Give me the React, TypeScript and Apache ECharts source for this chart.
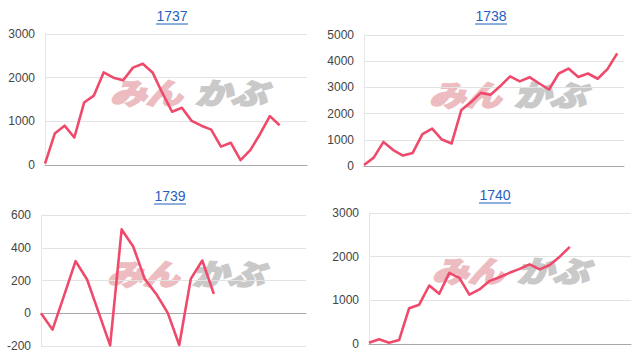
import React, { useEffect, useRef } from "react";
import * as echarts from "echarts";

const titles = ["1737", "1738", "1739", "1740"];

const values1737 = [30, 720, 900, 630, 1430, 1590, 2120, 2000, 1940, 2230, 2320, 2120, 1650, 1220, 1310, 1010, 900, 810, 420, 510, 110, 340, 710, 1120, 910];
const values1738 = [40, 320, 920, 610, 400, 500, 1220, 1430, 1010, 860, 2140, 2440, 2790, 2720, 3050, 3420, 3230, 3390, 3150, 2920, 3530, 3720, 3400, 3530, 3330, 3700, 4300];
const values1739 = [0, -100, 108, 318, 206, 5, -196, 512, 408, 210, 118, 2, -194, 210, 322, 118];
const values1740 = [30, 110, 30, 90, 820, 900, 1340, 1150, 1630, 1515, 1130, 1250, 1440, 1530, 1630, 1720, 1825, 1710, 1810, 2000, 2225];

const yMins = [0, 0, -200, 0];
const yMaxs = [3000, 5000, 600, 3000];
const yIntervals = [1000, 1000, 200, 1000];
const xMaxs = [26.8, 26.7, 23, 26.1];

const allValues = [values1737, values1738, values1739, values1740];

const grids = [
  { left: 45, top: 34, width: 262, height: 131 },
  { left: 364, top: 35, width: 260, height: 131 },
  { left: 41, top: 215, width: 265, height: 131 },
  { left: 369, top: 213, width: 262, height: 131 },
];

const titlePos = [
  [172, 16],
  [491, 16],
  [170, 196],
  [495, 195],
];

const markPos = [
  [110, 91],
  [429, 93],
  [107, 272],
  [432, 269],
];

const LINE = "#ef4a6b";
const FONT = '"Liberation Sans", Arial, sans-serif';

export default function App() {
  const ref = useRef<HTMLDivElement>(null);
  useEffect(() => {
    if (!ref.current) return;
    const chart = echarts.init(ref.current, undefined, { renderer: "svg" });
    const graphics: any[] = [];
    titles.forEach((t, i) => {
      const [cx, cy] = titlePos[i];
      graphics.push({
        type: "text",
        x: cx,
        y: cy,
        z: 10,
        style: {
          text: t,
          fill: "#1f5fbf",
          font: `14px ${FONT}`,
          textAlign: "center",
          textVerticalAlign: "middle",
        },
      });
      graphics.push({
        type: "line",
        z: 10,
        shape: { x1: cx - 16, y1: cy + 8, x2: cx + 16, y2: cy + 8 },
        style: { stroke: "#1f5fbf", lineWidth: 1 },
      });
      const [mx, my] = markPos[i];
      graphics.push({
        type: "text",
        x: mx,
        y: my,
        scaleY: 0.8,
        z: 0,
        style: {
          text: "みん",
          fill: "#ecbcc1",
          stroke: "#ecbcc1",
          lineWidth: 3,
          font: `italic bold 36px "Noto Sans CJK JP"`,
          textAlign: "left",
          textVerticalAlign: "middle",
        },
      });
      graphics.push({
        type: "text",
        x: mx + 85,
        y: my,
        scaleY: 0.8,
        z: 0,
        style: {
          text: "かぶ",
          fill: "#c9c9c9",
          stroke: "#c9c9c9",
          lineWidth: 3,
          font: `italic bold 36px "Noto Sans CJK JP"`,
          textAlign: "left",
          textVerticalAlign: "middle",
        },
      });
    });

    const option: any = {
      animation: false,
      backgroundColor: "#ffffff",
      grid: grids.map((g) => ({ ...g, containLabel: false })),
      xAxis: grids.map((_, i) => ({
        type: "value",
        gridIndex: i,
        min: 0,
        max: xMaxs[i],
        axisLine: { show: true, onZero: true, lineStyle: { color: "#a8a8a8", width: 1 } },
        axisTick: { show: false },
        axisLabel: { show: false },
        splitLine: { show: false },
      })),
      yAxis: grids.map((_, i) => ({
        type: "value",
        gridIndex: i,
        min: yMins[i],
        max: yMaxs[i],
        interval: yIntervals[i],
        axisLine: { show: true, lineStyle: { color: "#e6e6e6", width: 1 } },
        axisTick: { show: false },
        axisLabel: {
          color: "#444444",
          fontSize: 12,
          fontFamily: FONT,
          margin: 10,
          formatter: (v: number) => String(v),
        },
        splitLine: { show: true, lineStyle: { color: "#e3e3e3", width: 1 } },
      })),
      series: allValues.map((vals, i) => ({
        type: "line",
        xAxisIndex: i,
        yAxisIndex: i,
        z: 5,
        showSymbol: false,
        symbol: "none",
        data: vals.map((v, k) => [k, v]),
        lineStyle: { color: LINE, width: 2.6, join: "round" },
      })),
      graphic: graphics,
    };
    chart.setOption(option);
    return () => chart.dispose();
  }, []);
  return (
    <div
      ref={ref}
      style={{ position: "fixed", left: 0, top: 0, width: 634, height: 358, background: "#fff" }}
    />
  );
}
